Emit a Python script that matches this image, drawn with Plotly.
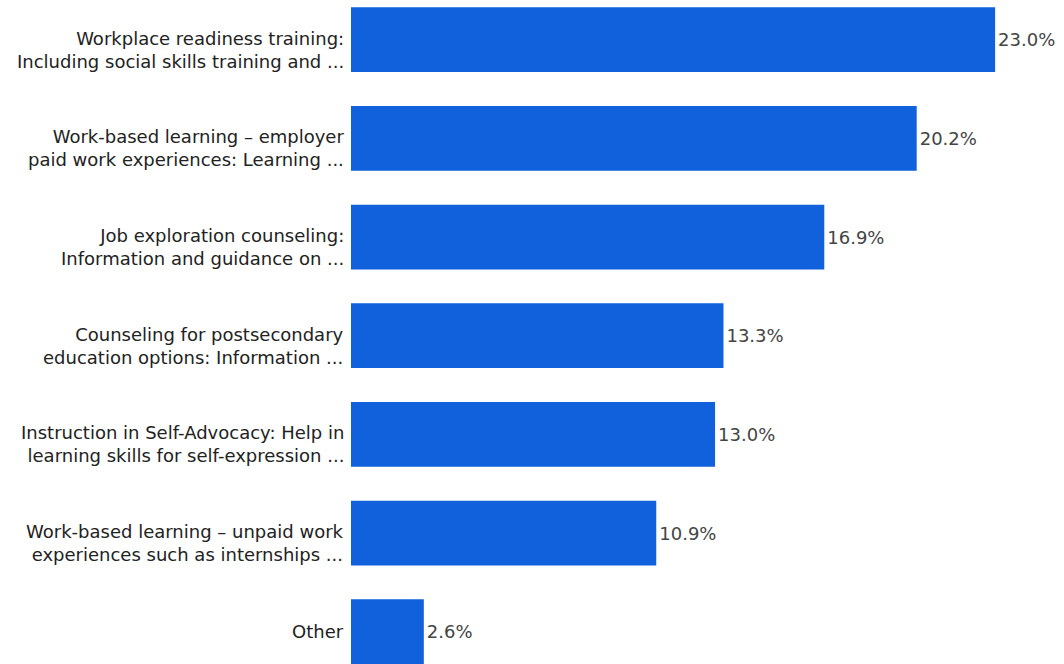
import plotly.graph_objects as go

# Survey responses: share of respondents choosing each service
categories = [
    "Workplace readiness training:<br>Including social skills training and ...",
    "Work-based learning – employer<br>paid work experiences: Learning ...",
    "Job exploration counseling:<br>Information and guidance on ...",
    "Counseling for postsecondary<br>education options: Information ...",
    "Instruction in Self-Advocacy: Help in<br>learning skills for self-expression ...",
    "Work-based learning – unpaid work<br>experiences such as internships ...",
    "Other",
]
shares = [23.0, 20.2, 16.9, 13.3, 13.0, 10.9, 2.6]

BAR_COLOR = "#1160dc"
FONT = "DejaVu Sans"

fig = go.Figure(
    go.Bar(
        x=shares,
        y=categories,
        orientation="h",
        marker=dict(color=BAR_COLOR, line=dict(width=0)),
        texttemplate="%{x:.1f}%",
        textposition="outside",
        textfont=dict(family=FONT, size=18, color="#444444"),
        cliponaxis=False,
        hoverinfo="skip",
    )
)

# Category labels: the first line sits beside the bar's middle,
# wrapped continuation lines hang below it.
for cat in categories:
    n_lines = cat.count("<br>") + 1
    fig.add_annotation(
        text=cat,
        xref="paper",
        x=0,
        y=cat,
        yref="y",
        xanchor="right",
        yanchor="middle",
        align="right",
        xshift=-5,
        yshift=-10 * (n_lines - 1),
        showarrow=False,
        font=dict(family=FONT, size=18, color="#222222"),
    )

fig.update_layout(
    width=1064,
    height=664,
    margin=dict(l=351, r=0, t=0, b=0),
    paper_bgcolor="white",
    plot_bgcolor="white",
    bargap=0.344,
    showlegend=False,
    font=dict(family=FONT, size=18, color="#222222"),
)

fig.update_xaxes(
    range=[0, 25.46],
    showticklabels=False,
    showgrid=False,
    zeroline=False,
    showline=False,
)

fig.update_yaxes(
    type="category",
    range=[6.327, -0.402],
    showgrid=False,
    zeroline=False,
    showline=False,
    ticks="",
    showticklabels=False,
)

fig.write_html("out.html")
